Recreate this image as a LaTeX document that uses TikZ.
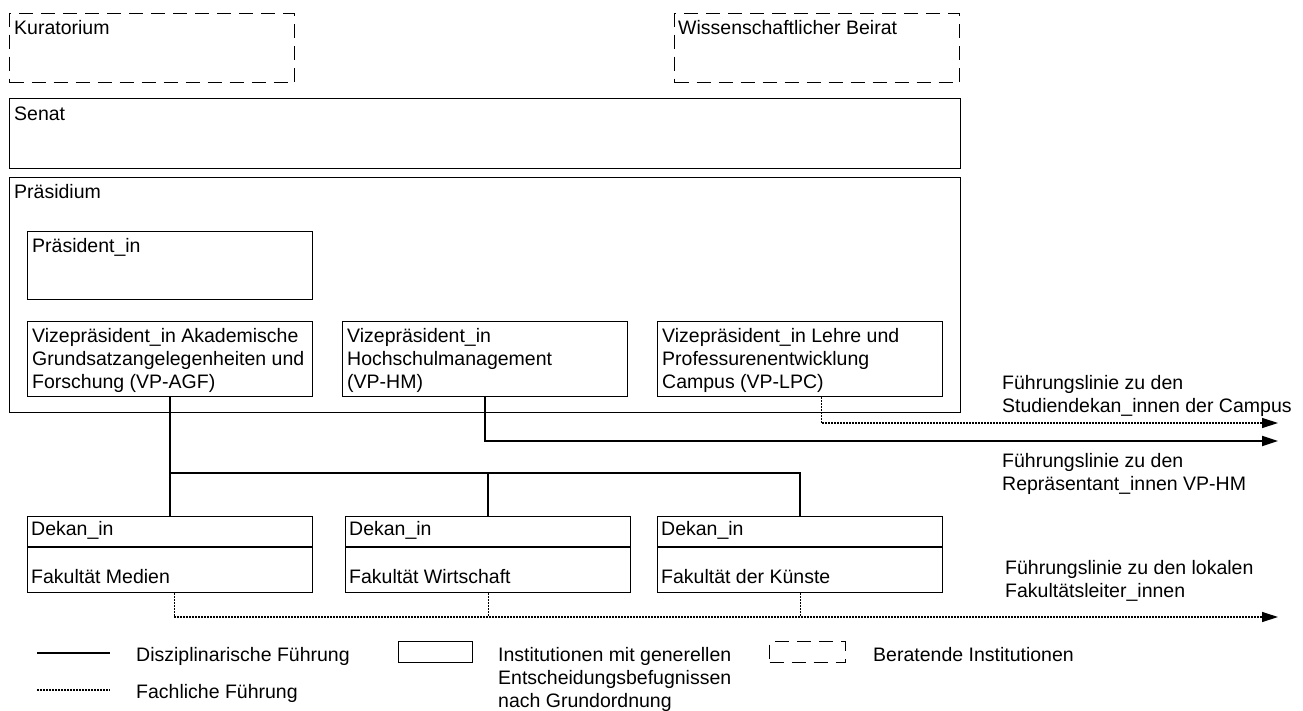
\documentclass[tikz,border=0pt]{standalone}
\usepackage{fontspec}
\setmainfont{Liberation Sans}
\usetikzlibrary{arrows.meta}
\newcommand\labfont{\fontsize{19.5}{23}\selectfont}
\tikzset{
 box/.style={draw, line width=1.3pt, anchor=north west, inner sep=0pt},
 advbox/.style={box, dash pattern=on 14pt off 8pt},
 boxtext/.style={anchor=north west, inner sep=0pt, align=left, font=\labfont, execute at begin node=\rule{0pt}{14pt}},
 legtext/.style={anchor=base west, inner sep=0pt, font=\labfont},
 lead/.style={line width=1.8pt},
 subj/.style={line width=1.2pt, dash pattern=on 1.5pt off 1.5pt},
 arr/.style={-{Triangle[length=16pt,width=10pt]}},
}
\begin{document}
\begin{tikzpicture}[x=1pt,y=-1pt]
\useasboundingbox (0,0) rectangle (1303,711);
%advisory boards
\node[advbox, minimum width=285pt, minimum height=69pt] (kur) at (9,13) {};
\node[boxtext] (kurt) at ([shift={(5pt,-7pt)}]kur.north west) {Kuratorium};
\node[advbox, minimum width=285pt, minimum height=69pt] (wb) at (674,13) {};
\node[boxtext] (wbt) at ([shift={(4pt,-7pt)}]wb.north west) {Wissenschaftlicher Beirat};
%senat
\node[box, minimum width=951pt, minimum height=70pt] (sen) at (9,98) {};
\node[boxtext] (sent) at ([shift={(5pt,-8pt)}]sen.north west) {Senat};
%praesidium
\node[box, minimum width=951pt, minimum height=235pt] (pra) at (9,177) {};
\node[boxtext] (prat) at ([shift={(5pt,-7pt)}]pra.north west) {Präsidium};
\node[box, minimum width=285pt, minimum height=68pt] (pres) at (27,231) {};
\node[boxtext] (prest) at ([shift={(5pt,-7pt)}]pres.north west) {Präsident\_in};
\node[box, minimum width=285pt, minimum height=75pt] (agf) at (27,321) {};
\node[boxtext] (agft) at ([shift={(5pt,-7pt)}]agf.north west) {Vizepräsident\_in Akademische\\Grundsatzangelegenheiten und\\Forschung (VP-AGF)};
\node[box, minimum width=285pt, minimum height=75pt] (hm) at (342,321) {};
\node[boxtext] (hmt) at ([shift={(5pt,-7pt)}]hm.north west) {Vizepräsident\_in\\Hochschulmanagement\\(VP-HM)};
\node[box, minimum width=285pt, minimum height=75pt] (lpc) at (657,321) {};
\node[boxtext] (lpct) at ([shift={(5pt,-7pt)}]lpc.north west) {Vizepräsident\_in Lehre und\\Professurenentwicklung\\Campus (VP-LPC)};
%deans
\node[box, minimum width=285pt, minimum height=76pt] (med) at (27,516) {};
\draw[line width=1.3pt] ([yshift=-31pt]med.north west) -- ([yshift=-31pt]med.north east);
\node[boxtext] (medt) at ([shift={(4pt,-5pt)}]med.north west) {Dekan\_in};
\node[boxtext] (medbt) at ([shift={(4pt,-53pt)}]med.north west) {Fakultät Medien};
\node[box, minimum width=285pt, minimum height=76pt] (wir) at (345,516) {};
\draw[line width=1.3pt] ([yshift=-31pt]wir.north west) -- ([yshift=-31pt]wir.north east);
\node[boxtext] (wirt) at ([shift={(4pt,-5pt)}]wir.north west) {Dekan\_in};
\node[boxtext] (wirbt) at ([shift={(4pt,-53pt)}]wir.north west) {Fakultät Wirtschaft};
\node[box, minimum width=285pt, minimum height=76pt] (kun) at (657,516) {};
\draw[line width=1.3pt] ([yshift=-31pt]kun.north west) -- ([yshift=-31pt]kun.north east);
\node[boxtext] (kunt) at ([shift={(4pt,-5pt)}]kun.north west) {Dekan\_in};
\node[boxtext] (kunbt) at ([shift={(4pt,-53pt)}]kun.north west) {Fakultät der Künste};
%lines
\coordinate (bus) at (0,473);
\draw[lead] (agf.south) -- (med.north);
\draw[lead] (agf.south |- bus) -| (wir.north);
\draw[lead] (agf.south |- bus) -| (kun.north);
\coordinate (campend) at (1278,423);
\coordinate (hmend) at (1278,441);
\coordinate (dekend) at (1278,617);
\draw[subj,arr] ([xshift=21pt]lpc.south) |- (campend);
\draw[lead,arr] (hm.south) |- (hmend);
\draw[subj,arr] ([xshift=4pt]med.south) |- (dekend);
\draw[subj] (wir.south) -- (wir.south |- dekend);
\draw[subj] (kun.south) -- (kun.south |- dekend);
\node[boxtext] (campt) at (1002,375) {Führungslinie zu den\\Studiendekan\_innen der Campus};
\node[boxtext] (hmt2) at (1002,453) {Führungslinie zu den\\Repräsentant\_innen VP-HM};
\node[boxtext] (dekt) at (1005,560) {Führungslinie zu den lokalen\\Fakultätsleiter\_innen};
%legend
\coordinate (la) at (37,653);
\coordinate (lb) at (110,653);
\draw[line width=1.5pt] (la) -- (lb);
\node[legtext] (lat) at (136,661) {Disziplinarische Führung};
\coordinate (lc) at (37,690);
\coordinate (ld) at (110,690);
\draw[subj] (lc) -- (ld);
\node[legtext] (lct) at (136,698) {Fachliche Führung};
\node[box, minimum width=74pt, minimum height=21pt] (lbox) at (398,641) {};
\node[boxtext] (lboxt) at (498,647) {Institutionen mit generellen\\Entscheidungsbefugnissen\\nach Grundordnung};
\node[advbox, minimum width=76pt, minimum height=21pt] (ladv) at (769,641) {};
\node[legtext] (ladvt) at (873,661) {Beratende Institutionen};
\end{tikzpicture}
\end{document}
